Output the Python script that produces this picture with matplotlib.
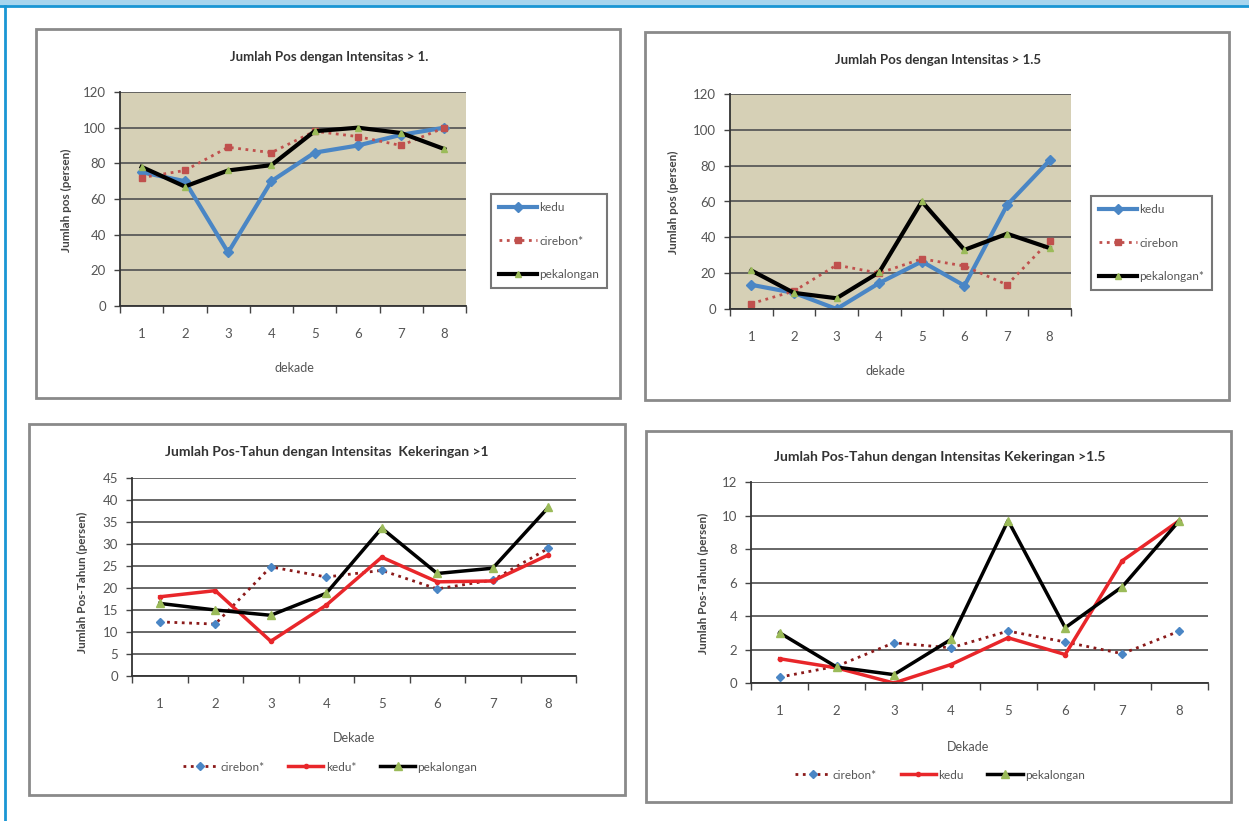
import matplotlib
matplotlib.use("Agg")
import matplotlib.pyplot as plt
from matplotlib.patches import Rectangle
from matplotlib.lines import Line2D

W, H = 1249, 821
plt.rcParams['font.family'] = ['Lato', 'DejaVu Sans']

decades = [1, 2, 3, 4, 5, 6, 7, 8]
decade_labels = ['1', '2', '3', '4', '5', '6', '7', '8']

# Panel 1: Jumlah Pos dengan Intensitas > 1.
p1_kedu = [75, 70, 30, 70, 86, 90, 96, 100]
p1_cirebon = [72, 76, 89, 86, 98, 95, 90, 100]
p1_pekalongan = [78, 67, 76, 79, 98, 100, 97, 88]

# Panel 2: Jumlah Pos dengan Intensitas > 1.5
p2_kedu = [13.5, 9, 0, 14.5, 26.5, 13, 58, 83]
p2_cirebon = [3, 10, 24.5, 20, 28, 24, 13.5, 38]
p2_pekalongan = [21.5, 9, 6, 20.5, 60, 33, 42, 34]

# Panel 3: Jumlah Pos-Tahun dengan Intensitas Kekeringan >1
p3_cirebon = [12.3, 11.8, 24.8, 22.5, 24, 19.8, 21.8, 29]
p3_kedu = [18, 19.4, 7.9, 16.1, 27, 21.4, 21.6, 27.5]
p3_pekalongan = [16.5, 15, 13.8, 18.8, 33.6, 23.3, 24.5, 38.3]

# Panel 4: Jumlah Pos-Tahun dengan Intensitas Kekeringan >1.5
p4_cirebon = [0.35, 1.0, 2.4, 2.1, 3.1, 2.45, 1.75, 3.1]
p4_kedu = [1.45, 0.9, 0.0, 1.1, 2.7, 1.7, 7.3, 9.7]
p4_pekalongan = [3.0, 0.95, 0.5, 2.6, 9.7, 3.3, 5.75, 9.7]

BLUE = '#4a86c5'
RED_DOT = '#c0504d'
RED = '#e8262a'
DARKRED = '#8b1a1a'
GREEN = '#9bbb59'
TXT = '#555555'

fig = plt.figure(figsize=(W / 100, H / 100), dpi=100)
fig.patch.set_facecolor('white')


def fx(x):
    return x / W


def fy(y):
    return 1 - y / H


# outer decoration
fig.add_artist(Rectangle((0, fy(6)), 1, 6 / H, transform=fig.transFigure,
                         facecolor='#a7d5ee', edgecolor='none'))
fig.add_artist(Line2D([0, 1], [fy(6.5), fy(6.5)], transform=fig.transFigure,
                      color='#1a96d4', lw=2))
fig.add_artist(Line2D([fx(5), fx(5)], [fy(6), 0], transform=fig.transFigure,
                      color='#1a96d4', lw=2))


def panel_box(x0, y0, x1, y1):
    fig.add_artist(Rectangle((fx(x0), fy(y1)), (x1 - x0) / W, (y1 - y0) / H,
                             transform=fig.transFigure, facecolor='white',
                             edgecolor='#8a8a8a', lw=2, zorder=0))


def make_axes(x0, y0, x1, y1, ymax, ystep, face):
    ax = fig.add_axes([fx(x0), fy(y1), (x1 - x0) / W, (y1 - y0) / H])
    ax.set_facecolor(face)
    ax.set_xlim(0.5, 8.5)
    ax.set_ylim(0, ymax)
    ax.set_yticks(list(range(0, ymax + 1, ystep)))
    ax.set_xticks(decades)
    ax.set_xticklabels(decade_labels)
    ax.set_xticks([i + 0.5 for i in range(0, 9)], minor=True)
    ax.tick_params(axis='x', which='major', length=0, pad=16, labelsize=9.5,
                   labelcolor=TXT)
    ax.tick_params(axis='x', which='minor', length=5, width=1, color='#444',
                   direction='out')
    ax.tick_params(axis='y', length=4, width=1, color='#444', pad=6,
                   labelsize=9.5, labelcolor=TXT)
    for s in ['top', 'right']:
        ax.spines[s].set_visible(False)
    for s in ['left', 'bottom']:
        ax.spines[s].set_color('#333')
        ax.spines[s].set_linewidth(1.3)
    ax.yaxis.grid(True, color='#5a5a5a', lw=1.3)
    ax.set_axisbelow(True)
    return ax


# ---------------- Panel 1 ----------------
panel_box(36, 29, 620, 398)
ax1 = make_axes(120, 92, 466, 306, 120, 20, '#d6d0b6')
h1 = ax1.plot(decades, p1_kedu, color=BLUE, lw=3, marker='D', ms=5,
              label='kedu')[0]
h2 = ax1.plot(decades, p1_cirebon, color=RED_DOT, lw=2, ls=':', marker='s',
              ms=5, label='cirebon*')[0]
h3 = ax1.plot(decades, p1_pekalongan, color='black', lw=3, marker='^', ms=5,
              mfc=GREEN, mec=GREEN, label='pekalongan')[0]
fig.text(fx(329), fy(57), 'Jumlah Pos dengan Intensitas > 1.', ha='center',
         va='center', fontsize=9.5, fontweight='bold', color='#333')
fig.text(fx(294), fy(368), 'dekade', ha='center', va='center', fontsize=9,
         color=TXT)
fig.text(fx(66), fy(200), 'Jumlah pos (persen)', ha='center', va='center',
         rotation=90, fontsize=8.5, fontweight='bold', color='#444')
fig.legend(handles=[h1, h2, h3], loc='upper left',
           bbox_to_anchor=(fx(485), fy(188)), bbox_transform=fig.transFigure,
           frameon=True, fancybox=False, edgecolor='#555', fontsize=8.5,
           labelspacing=1.9, handlelength=3.2, handletextpad=0.2,
           borderpad=0.7, labelcolor=TXT).get_frame().set_linewidth(1.5)

# ---------------- Panel 2 ----------------
panel_box(645, 32, 1229, 400)
ax2 = make_axes(730, 94, 1071, 309, 120, 20, '#d6d0b6')
g1 = ax2.plot(decades, p2_kedu, color=BLUE, lw=3, marker='D', ms=5,
              label='kedu')[0]
g2 = ax2.plot(decades, p2_cirebon, color=RED_DOT, lw=2, ls=':', marker='s',
              ms=5, label='cirebon')[0]
g3 = ax2.plot(decades, p2_pekalongan, color='black', lw=3, marker='^', ms=5,
              mfc=GREEN, mec=GREEN, label='pekalongan*')[0]
fig.text(fx(938), fy(60), 'Jumlah Pos dengan Intensitas > 1.5', ha='center',
         va='center', fontsize=9.5, fontweight='bold', color='#333')
fig.text(fx(885), fy(371), 'dekade', ha='center', va='center', fontsize=9,
         color=TXT)
fig.text(fx(673), fy(202), 'Jumlah pos (persen)', ha='center', va='center',
         rotation=90, fontsize=8.5, fontweight='bold', color='#444')
fig.legend(handles=[g1, g2, g3], loc='upper left',
           bbox_to_anchor=(fx(1085), fy(190)), bbox_transform=fig.transFigure,
           frameon=True, fancybox=False, edgecolor='#555', fontsize=8.5,
           labelspacing=1.9, handlelength=3.2, handletextpad=0.2,
           borderpad=0.7, labelcolor=TXT).get_frame().set_linewidth(1.5)

# ---------------- Panel 3 ----------------
panel_box(29, 424, 625, 795)
ax3 = make_axes(132, 478, 576, 676, 45, 5, 'white')
k1 = ax3.plot(decades, p3_cirebon, color=DARKRED, lw=2, ls=':', marker='D',
              ms=4, mfc=BLUE, mec=BLUE, label='cirebon*')[0]
k2 = ax3.plot(decades, p3_kedu, color=RED, lw=2.5, marker='o', ms=3,
              label='kedu*')[0]
k3 = ax3.plot(decades, p3_pekalongan, color='black', lw=2.5, marker='^',
              ms=6, mfc=GREEN, mec=GREEN, label='pekalongan')[0]
fig.text(fx(327), fy(452), 'Jumlah Pos-Tahun dengan Intensitas  Kekeringan >1',
         ha='center', va='center', fontsize=10, fontweight='bold', color='#333')
fig.text(fx(354), fy(738), 'Dekade', ha='center', va='center', fontsize=9,
         color=TXT)
fig.text(fx(82), fy(582), 'Jumlah Pos-Tahun (persen)', ha='center',
         va='center', rotation=90, fontsize=8.5, fontweight='bold',
         color='#444')
fig.legend(handles=[k1, k2, k3], loc='center',
           bbox_to_anchor=(fx(330), fy(767)), bbox_transform=fig.transFigure,
           ncol=3, frameon=False, fontsize=8.5, handlelength=3.0,
           handletextpad=0.2, columnspacing=2.0, labelcolor=TXT)

# ---------------- Panel 4 ----------------
panel_box(646, 431, 1231, 802)
ax4 = make_axes(751, 482, 1208, 683, 12, 2, 'white')
m1 = ax4.plot(decades, p4_cirebon, color=DARKRED, lw=2, ls=':', marker='D',
              ms=4, mfc=BLUE, mec=BLUE, label='cirebon*')[0]
m2 = ax4.plot(decades, p4_kedu, color=RED, lw=2.5, marker='o', ms=3,
              label='kedu')[0]
m3 = ax4.plot(decades, p4_pekalongan, color='black', lw=2.5, marker='^',
              ms=6, mfc=GREEN, mec=GREEN, label='pekalongan')[0]
fig.text(fx(940), fy(457), 'Jumlah Pos-Tahun dengan Intensitas Kekeringan >1.5',
         ha='center', va='center', fontsize=10, fontweight='bold', color='#333')
fig.text(fx(968), fy(747), 'Dekade', ha='center', va='center', fontsize=9,
         color=TXT)
fig.text(fx(703), fy(583), 'Jumlah Pos-Tahun (persen)', ha='center',
         va='center', rotation=90, fontsize=8.5, fontweight='bold',
         color='#444')
fig.legend(handles=[m1, m2, m3], loc='center',
           bbox_to_anchor=(fx(940), fy(775)), bbox_transform=fig.transFigure,
           ncol=3, frameon=False, fontsize=8.5, handlelength=3.0,
           handletextpad=0.2, columnspacing=2.0, labelcolor=TXT)

fig.savefig('out.png', dpi=100)
